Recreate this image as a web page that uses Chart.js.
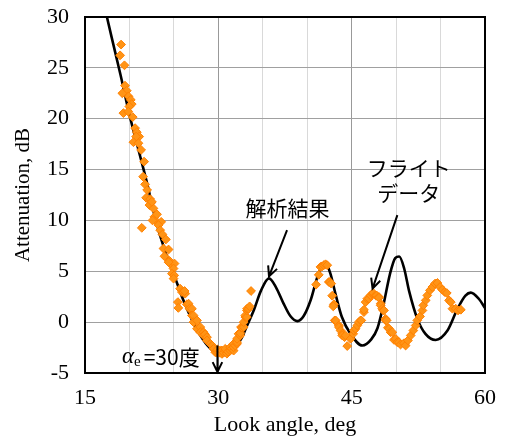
<!DOCTYPE html>
<html>
<head>
<meta charset="utf-8">
<script src="https://cdn.jsdelivr.net/npm/chart.js@4.4.1/dist/chart.umd.min.js"></script>
<style>
  body { margin: 0; background: #fff; }
  canvas { display: block; }
</style>
</head>
<body>
<canvas id="chart" width="505" height="441"></canvas>
<script>
// analysis result (black line)
const analysisAngle = [17.2, 18, 19, 20, 21, 22, 22.9, 24, 25, 26, 27, 28, 29, 30, 31, 32, 32.6, 33.2, 34, 34.8, 35.7,
  36.5, 37.3, 38.1, 38.9, 39.6, 40.4, 41.2, 42.0, 42.6, 43.2, 43.9, 44.9, 46.2, 47.2, 47.9, 48.6, 49.3, 49.9, 50.35,
  50.9, 51.45, 52.4, 53.3, 54.45, 55.8, 56.9, 57.8, 58.4, 59.3, 60];
const analysisAtt = [31, 28.0, 24.3, 20.4, 17.0, 13.6, 10.2, 7.0, 4.7, 2.3, 0.3, -1.35, -2.5, -3.0, -2.8, -2.3, -1.6, -0.4, 1.2, 3.1, 4.3,
  3.4, 1.9, 0.6, 0.1, 0.6, 2.2, 4.6, 5.85, 4.8, 2.7, 0.5, -1.2, -2.3, -1.7, -0.6, 1.8, 4.7, 6.3, 6.45,
  5.3, 3.1, 0.3, -1.15, -1.75, -0.8, 1.3, 2.6, 2.9, 2.3, 1.4];

// flight data (orange diamonds)
const flightAngle = [
  19.06, 18.95, 19.44, 19.5, 19.7, 19.2, 19.89, 20.15, 20.26, 19.99, 19.32, 19.87, 20.37, 20.64, 20.83, 21.09, 20.75, 20.45,
  21.01, 21.31, 21.65, 21.54, 21.76, 21.99, 21.88, 22.33, 22.44, 22.25, 22.7, 22.81, 23.0, 23.57, 23.27, 23.46, 21.39, 22.52,
  22.6, 23.1, 23.72, 24.1, 23.83, 24.4, 23.94, 24.5, 24.58, 25.07, 24.96, 24.4, 24.78, 25.03, 24.96, 25.7, 25.9, 26.08,
  26.27, 26.2, 25.45, 25.5, 26.46, 26.65, 26.76, 27.03, 27.03, 27.2, 27.21, 27.6, 27.6, 27.97, 27.97, 28.34, 28.34, 28.5,
  28.72, 28.72, 29.1, 29.3, 29.46, 29.66, 29.85, 29.9, 30.1, 30.2, 30.4, 30.4, 30.6, 30.78, 30.78, 30.97, 31.1, 31.35,
  31.35, 31.5, 31.72, 31.72, 31.72, 31.9, 32.1, 32.1, 32.1, 32.28, 32.47, 32.47, 32.55, 32.66, 32.85, 32.85, 33.04, 33.04,
  33.2, 33.22, 33.23, 33.4, 33.52, 33.68,
  41.0, 41.3, 41.49, 41.68, 41.87, 42.06, 42.25, 42.43, 42.55, 42.7, 42.81, 43.0, 42.93, 43.1, 43.2, 43.56, 43.56, 43.75,
  43.94, 43.94, 44.2, 44.3, 44.5, 44.88, 45.17, 45.25, 45.43, 45.63, 45.81, 46.0, 46.08, 46.38, 46.38, 46.57, 46.76, 46.95,
  47.13, 47.32, 47.43, 47.7, 47.8, 48.07, 48.07, 48.26, 48.26, 48.44, 48.56, 48.63, 48.82, 48.82, 48.93, 49.08, 49.2, 49.38,
  49.57, 49.76, 49.95, 50.13, 50.32, 50.5, 50.88, 51.07, 51.33, 51.64, 51.94, 52.2, 52.38, 52.69, 52.96, 53.06, 53.33, 53.51,
  53.81, 54.08, 54.38, 54.65, 54.94, 55.2, 55.47, 55.7, 55.96, 56.15, 56.34, 56.71, 56.97, 57.28];
const flightAtt = [
  27.29, 26.23, 25.25, 23.25, 22.75, 22.5, 22.2, 21.86, 21.44, 21.2, 20.55, 20.7, 20.16, 19.07, 18.68, 18.24, 18.24, 17.69,
  17.59, 16.93, 15.78, 14.3, 13.55, 12.99, 12.23, 12.1, 11.74, 11.51, 11.18, 10.35, 9.93, 9.86, 9.54, 9.04, 9.27, 11.83,
  10.0, 10.6, 8.62, 8.13, 7.24, 7.14, 6.48, 6.02, 5.76, 5.76, 5.27, 5.9, 4.77, 4.6, 4.28, 3.29, 2.96, 2.96,
  2.8, 3.06, 1.97, 1.4, 1.75, 1.82, 1.32, 1.32, 0.66, 0.66, 0, 0.17, -0.65, -0.49, -0.99, -0.99, -1.31, -1.2,
  -1.48, -1.8, -2.13, -2.3, -2.62, -2.96, -2.96, -2.7, -3.0, -2.8, -3.12, -2.79, -3.0, -2.79, -2.62, -3.1, -2.9, -2.79,
  -2.46, -2.6, -2.8, -2.46, -2.13, -2.3, -2.13, -1.97, -1.64, -1.15, -1.31, -1.08, -0.49, -0.55, -0.49, 0, 0.5, 0.66,
  0.5, 1.15, 1.32, 1.32, 1.55, 3.06,
  3.69, 4.65, 5.43, 5.49, 5.6, 5.69, 5.6, 3.95, 3.95, 3.79, 2.6, 1.75, 1.55, 0.17, 0.17, -0.33, -0.49, -0.82,
  -1.15, -1.31, -1.48, -1.31, -2.35, -1.64, -1.15, -0.82, -0.65, -0.33, 0, 0.17, 0.17, 0.99, 1.22, 1.97, 2.31, 2.31,
  2.63, 2.8, 2.86, 2.63, 2.63, 2.47, 2.4, 1.82, 1.65, 1.32, 1.15, 1.15, 0.33, 0.17, 0.17, -0.55, -0.65, -0.99,
  -0.99, -1.74, -1.64, -1.97, -1.97, -2.2, -2.07, -2.3, -1.8, -1.31, -0.82, -0.33, 0.17, 0.56, 1.15, 1.65, 2.14, 2.63,
  3.13, 3.45, 3.79, 3.85, 3.45, 3.19, 2.96, 2.86, 2.14, 1.97, 1.32, 1.32, 1.15, 1.22];

const xMin = 15, xMax = 60, xStep = 5;
const yMin = -5, yMax = 30, yStep = 5;

const toPoints = (xs, ys) => xs.map((x, i) => ({ x: x, y: ys[i] }));

function arrow(ctx, x1, y1, x2, y2) {
  const a = Math.atan2(y2 - y1, x2 - x1);
  const len = 11, spread = 0.45;
  ctx.beginPath();
  ctx.moveTo(x1, y1);
  ctx.lineTo(x2, y2);
  ctx.moveTo(x2 - len * Math.cos(a - spread), y2 - len * Math.sin(a - spread));
  ctx.lineTo(x2, y2);
  ctx.lineTo(x2 - len * Math.cos(a + spread), y2 - len * Math.sin(a + spread));
  ctx.stroke();
}

// frame round the plot area and the text notes with arrows
const notesPlugin = {
  id: 'notes',
  afterDatasetsDraw(chart) {
    const ctx = chart.ctx;
    const a = chart.chartArea;
    const xs = chart.scales.x, ys = chart.scales.y;
    const px = v => xs.getPixelForValue(v);
    const py = v => ys.getPixelForValue(v);

    ctx.save();
    ctx.strokeStyle = '#000';
    ctx.lineWidth = 2;
    ctx.strokeRect(a.left, a.top, a.right - a.left, a.bottom - a.top);

    ctx.fillStyle = '#000';
    ctx.lineWidth = 2;
    ctx.textBaseline = 'middle';
    ctx.textAlign = 'center';
    ctx.font = '21px "Noto Sans CJK JP"';
    ctx.fillText('解析結果', px(37.77), py(11.2));
    arrow(ctx, px(37.73), py(9.04), px(35.7), py(4.5));

    ctx.fillText('フライト', px(51.41), py(15.16));
    ctx.fillText('データ', px(51.41), py(12.7));
    arrow(ctx, px(50.14), py(10.52), px(47.35), py(3.3));

    // alpha_e = 30 deg
    ctx.textAlign = 'left';
    let x = px(27.9);
    const y = py(-3.45);
    ctx.font = '21px "Noto Sans CJK JP"';
    const tail = '=30度';
    const wTail = ctx.measureText(tail).width;
    ctx.font = '15px "Liberation Serif"';
    const wSub = ctx.measureText('e').width;
    ctx.font = 'italic 23px "Liberation Serif"';
    const wA = ctx.measureText('α').width;
    x -= wTail + wSub + wA + 3;
    ctx.fillText('α', x, y);
    x += wA;
    ctx.font = '15px "Liberation Serif"';
    ctx.fillText('e', x, y + 5);
    x += wSub + 3;
    ctx.font = '21px "Noto Sans CJK JP"';
    ctx.fillText(tail, x, y);
    arrow(ctx, px(29.9), py(-2.3), px(29.9), py(-5) - 1);
    ctx.restore();
  }
};

new Chart(document.getElementById('chart'), {
  type: 'scatter',
  data: {
    datasets: [
      {
        label: 'フライトデータ',
        data: toPoints(flightAngle, flightAtt),
        pointStyle: 'rectRot',
        pointRadius: 4.4,
        backgroundColor: '#ff9416',
        borderColor: '#ff8000',
        borderWidth: 1
      },
      {
        label: '解析結果',
        data: toPoints(analysisAngle, analysisAtt),
        showLine: true,
        cubicInterpolationMode: 'monotone',
        pointRadius: 0,
        borderColor: '#000',
        borderWidth: 2.6
      }
    ]
  },
  options: {
    responsive: false,
    animation: false,
    events: [],
    layout: { padding: { left: 0, right: 20, top: 17, bottom: 0 } },
    plugins: { legend: { display: false }, tooltip: { enabled: false } },
    scales: {
      x: {
        type: 'linear',
        min: xMin, max: xMax,
        afterFit: s => { s.height = 68; s.paddingLeft = 0; s.paddingRight = 0; },
        ticks: {
          stepSize: xStep,
          padding: 12,
          color: '#000',
          font: { family: '"Liberation Serif"', size: 22 },
          callback: v => (v % 15 === 0 ? v : '')
        },
        grid: {
          drawTicks: false,
          color: c => (c.tick && c.tick.value % 15 === 0 ? '#999999' : '#d9d9d9'),
          lineWidth: 1
        },
        border: { color: '#000', width: 2 },
        title: {
          display: true,
          text: 'Look angle, deg',
          color: '#000',
          font: { family: '"Liberation Serif"', size: 22 },
          padding: { top: 0, bottom: 3 }
        }
      },
      y: {
        type: 'linear',
        min: yMin, max: yMax,
        afterFit: s => { s.width = 85; s.paddingTop = 0; s.paddingBottom = 0; },
        ticks: {
          stepSize: yStep,
          padding: 16,
          color: '#000',
          font: { family: '"Liberation Serif"', size: 22 }
        },
        grid: { drawTicks: false, color: '#a0a0a0', lineWidth: 1 },
        border: { color: '#000', width: 2 },
        title: {
          display: true,
          text: 'Attenuation, dB',
          color: '#000',
          font: { family: '"Liberation Serif"', size: 21 },
          padding: { top: 11, bottom: 0 }
        }
      }
    }
  },
  plugins: [notesPlugin]
});
</script>
</body>
</html>
